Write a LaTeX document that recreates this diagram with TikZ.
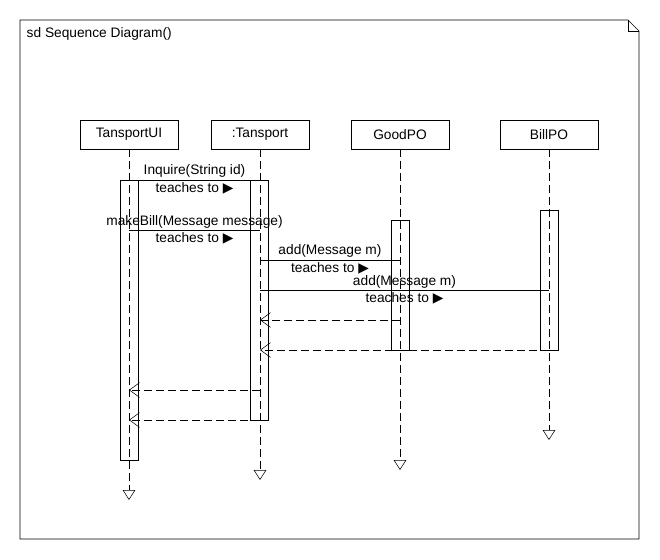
\documentclass[tikz,border=0pt]{standalone}
\usepackage{fontspec}
\setmainfont{Liberation Sans}
\newfontfamily\symfont{DejaVu Sans}
\usetikzlibrary{arrows.meta}

\newcommand{\playtri}{{\symfont ▶}}

\tikzset{
  obj/.style={draw, minimum width=73.5pt, minimum height=21.75pt, inner sep=0pt},
  act/.style={draw, minimum width=13.5pt, inner sep=0pt},
  lifeline/.style={dash pattern=on 6pt off 3pt, -{Triangle[open,length=7.5pt,width=9.5pt]}},
  ret/.style={dash pattern=on 6pt off 3pt, -{Straight Barb[length=7.5pt,width=11pt]}},
  lbl/.style={inner sep=1.5pt}
}

\begin{document}
\begin{tikzpicture}[x=0.75pt,y=-0.75pt,font=\fontsize{10.3}{12}\selectfont]
            \useasboundingbox (0,0) rectangle (660,560);
            % frame
            \draw (20,20) -- (628,20) -- (639,31) -- (639,539) -- (20,539) -- cycle;
            \draw (628,20) -- (628,31) -- (639,31);
            \node[anchor=west] (title) at (22,34) {sd Sequence Diagram()};

            \node[obj] (ui) at (129,134.5) {TansportUI};
            \node[obj] (tr) at (260,134.5) {:Tansport};
            \node[obj] (good) at (400,134.5) {GoodPO};
            \node[obj] (bill) at (549,134.5) {BillPO};

            \coordinate (uiend) at (129,500);
            \coordinate (trend) at (260,480);
            \coordinate (goodend) at (400,470);
            \coordinate (billend) at (549,440);

            \draw[lifeline] (ui) -- (uiend);
            \draw[lifeline] (tr) -- (trend);
            \draw[lifeline] (good) -- (goodend);
            \draw[lifeline] (bill) -- (billend);

            \node[act, minimum height=210pt] (uiact) at (129.5,320) {};
            \node[act, minimum height=180pt] (tract) at (259.5,300) {};
            \node[act, minimum height=97.5pt] (goodact) at (400,285) {};
            \node[act, minimum height=105pt] (billact) at (549,280) {};

            \coordinate (m1) at (0,180);
            \coordinate (m2) at (0,230.5);
            \coordinate (m3) at (0,260);
            \coordinate (m4) at (0,290.5);
            \coordinate (r1) at (0,320);
            \coordinate (r2) at (0,350);
            \coordinate (r3) at (0,390);
            \coordinate (r4) at (0,420);

            \draw (ui |- m1) -- (tr |- m1)
              node[lbl,midway,above] {Inquire(String id)}
              node[lbl,midway,below] {teaches to \playtri};
            \draw (ui |- m2) -- (tr |- m2)
              node[lbl,midway,above] {makeBill(Message message)}
              node[lbl,midway,below] {teaches to \playtri};
            \draw (tr |- m3) -- (good |- m3)
              node[lbl,midway,above] {add(Message m)}
              node[lbl,midway,below] {teaches to \playtri};
            \draw (tr |- m4) -- (bill |- m4)
              node[lbl,midway,above] {add(Message m)}
              node[lbl,midway,below] {teaches to \playtri};

            \draw[ret] (good |- r1) -- (tr |- r1);
            \draw[ret] (bill |- r2) -- (tr |- r2);
            \draw[ret] (tr |- r3) -- (ui |- r3);
            \draw[ret] (tr |- r4) -- (ui |- r4);
\end{tikzpicture}
\end{document}
